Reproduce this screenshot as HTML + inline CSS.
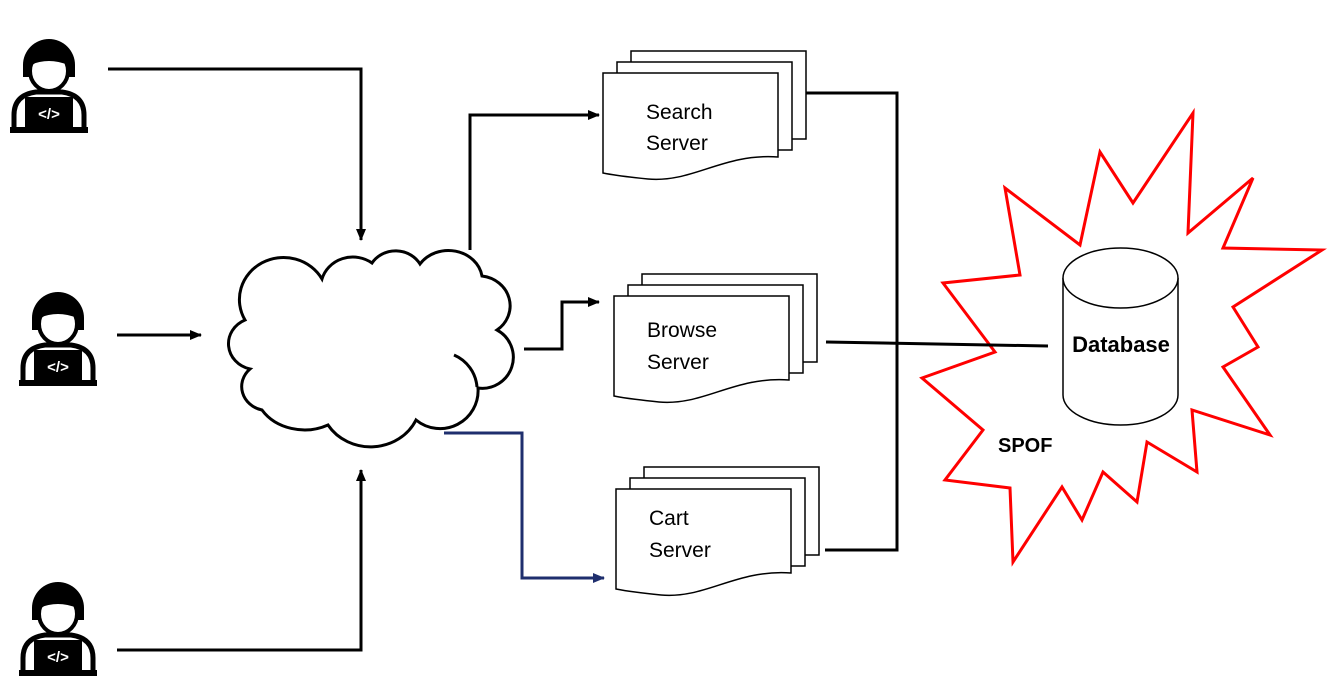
<!DOCTYPE html>
<html><head><meta charset="utf-8"><style>
html,body{margin:0;padding:0;background:#fff;}
svg{display:block}
text{font-family:"Liberation Sans",sans-serif}
</style></head><body>
<svg width="1331" height="685" viewBox="0 0 1331 685" xmlns="http://www.w3.org/2000/svg">
<defs>
<marker id="ab" markerWidth="12" markerHeight="10" refX="11" refY="5" orient="auto" markerUnits="userSpaceOnUse"><path d="M0,0 L12,5 L0,10 z" fill="#000"/></marker>
<marker id="au" markerWidth="12" markerHeight="10" refX="11" refY="5" orient="auto" markerUnits="userSpaceOnUse"><path d="M0,0 L12,5 L0,10 z" fill="#1f2f6e"/></marker>
<g id="user">
 <path d="M6,97 V80 Q6,60 28,57 H54 Q76,60 76,80 V97" fill="#fff" stroke="#000" stroke-width="5"/>
 <path d="M15,30 A26,26 0 0 1 67,30 L67,42 L60,42 L60,30 Q41,22 22,30 L22,42 L15,42 Z" fill="#000"/>
 <ellipse cx="41" cy="36" rx="19" ry="20" fill="none" stroke="#000" stroke-width="4"/>
 <path d="M22,32 Q40,16 60,30 L60,18 Q41,2 22,18z" fill="#000"/>
 <rect x="17" y="62" width="48" height="32" fill="#000"/>
 <rect x="2" y="92" width="78" height="6" fill="#000"/>
 <text x="41" y="84" font-size="15" font-weight="bold" fill="#fff" text-anchor="middle">&lt;/&gt;</text>
</g>
<g id="stack">
 <rect x="28" y="-22" width="175" height="88" fill="#fff" stroke="#000" stroke-width="1.5"/>
 <rect x="14" y="-11" width="175" height="88" fill="#fff" stroke="#000" stroke-width="1.5"/>
 <path d="M0,0 H175 V84 C120,80 90,110 45,106 C25,104 10,102 0,100 Z" fill="#fff" stroke="#000" stroke-width="1.5"/>
</g>
</defs>

<use href="#user" x="8" y="35"/>
<use href="#user" x="17" y="288"/>
<use href="#user" x="17" y="578"/>

<g fill="none" stroke="#000" stroke-width="3">
 <path d="M108,69 H361 V240" marker-end="url(#ab)"/>
 <path d="M117,335 H201" marker-end="url(#ab)"/>
 <path d="M117,650 H361 V470" marker-end="url(#ab)"/>
 <path d="M470,250 V115 H599" marker-end="url(#ab)"/>
 <path d="M524,349 H562 V302 H599" marker-end="url(#ab)"/>
 <path d="M806,93 H897 V550 H825"/>
</g>
<path d="M444,433 H522 V578 H604" fill="none" stroke="#1f2f6e" stroke-width="3" marker-end="url(#au)"/>

<!-- cloud -->
<path d="M245,320 A42,40 0 0 1 322,279 A32,30 0 0 1 372,263 A28,26 0 0 1 420,264 A34,30 0 0 1 482,276 A32,30 0 0 1 497,330 A31,31 0 0 1 478,388 A38,38 0 0 1 416,420 A50,46 0 0 1 328,425 A50,42 0 0 1 262,410 A26,24 0 0 1 250,369 A28,26 0 0 1 245,320 Z" fill="#fff" stroke="#000" stroke-width="3"/>
<path d="M454,355 A38,38 0 0 1 477,387" fill="none" stroke="#000" stroke-width="3"/>

<!-- servers -->
<use href="#stack" x="603" y="73"/>
<use href="#stack" x="614" y="296"/>
<use href="#stack" x="616" y="489"/>
<g font-size="21" fill="#000">
 <text x="646" y="119">Search</text><text x="646" y="150">Server</text>
 <text x="647" y="337">Browse</text><text x="647" y="369">Server</text>
 <text x="649" y="525">Cart</text><text x="649" y="557">Server</text>
</g>

<!-- explosion -->
<polygon points="1193,113 1188,233 1253,178 1223,248 1322,250 1233,307 1258,347 1223,367 1270,435 1192,410 1197,472 1147,442 1137,502 1103,472 1082,520 1062,487 1013,562 1010,488 945,480 983,430 922,378 995,352 943,283 1020,275 1005,188 1080,245 1100,152 1133,203" fill="none" stroke="#f00" stroke-width="3" stroke-linejoin="miter"/>
<path d="M826,342 L1048,346" stroke="#000" stroke-width="3"/>

<!-- database -->
<path d="M1063,278 V395 A57.5,30 0 0 0 1178,395 V278" fill="#fff" stroke="#000" stroke-width="1.5"/>
<ellipse cx="1120.5" cy="278" rx="57.5" ry="30" fill="#fff" stroke="#000" stroke-width="1.5"/>
<text x="1121" y="352" font-size="22" font-weight="bold" text-anchor="middle">Database</text>
<text x="998" y="452" font-size="20" font-weight="bold">SPOF</text>
</svg>
</body></html>
